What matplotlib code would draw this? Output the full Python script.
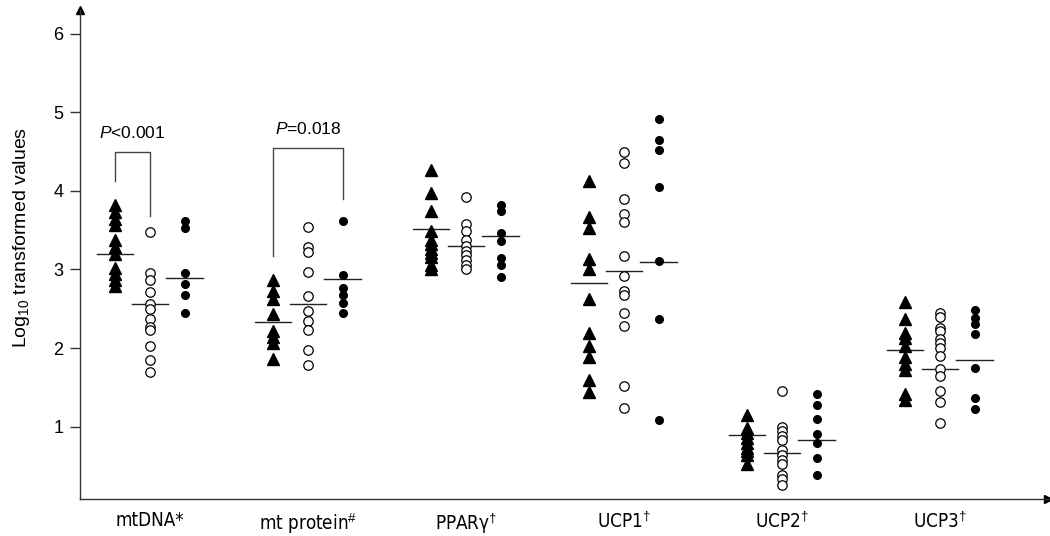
import matplotlib
matplotlib.use('Agg')
import matplotlib.pyplot as plt

# category labels (x axis)
categories = ['mtDNA*', r'mt protein$^{\#}$', r'PPARγ$^{\dagger}$',
              r'UCP1$^{\dagger}$', r'UCP2$^{\dagger}$', r'UCP3$^{\dagger}$']

# group 1: filled triangles
tri_vals = [
    [3.82, 3.73, 3.64, 3.56, 3.38, 3.28, 3.20, 3.02, 2.94, 2.86, 2.79],
    [2.86, 2.73, 2.62, 2.43, 2.22, 2.14, 2.06, 1.86],
    [4.26, 3.97, 3.74, 3.49, 3.37, 3.32, 3.26, 3.21, 3.16, 3.06, 3.01],
    [4.12, 3.67, 3.53, 3.13, 3.00, 2.63, 2.19, 2.03, 1.89, 1.60, 1.44],
    [1.15, 0.98, 0.92, 0.86, 0.79, 0.73, 0.69, 0.64, 0.52],
    [2.58, 2.37, 2.19, 2.13, 2.02, 1.89, 1.80, 1.72, 1.42, 1.34],
]
tri_mean = [3.19, 2.33, 3.52, 2.83, 0.89, 1.97]

# group 2: open circles
open_vals = [
    [3.47, 2.95, 2.87, 2.71, 2.56, 2.50, 2.37, 2.27, 2.23, 2.03, 1.85, 1.69],
    [3.54, 3.29, 3.22, 2.97, 2.66, 2.47, 2.34, 2.23, 1.98, 1.79],
    [3.92, 3.58, 3.49, 3.37, 3.30, 3.24, 3.18, 3.12, 3.06, 3.00],
    [4.50, 4.35, 3.90, 3.71, 3.60, 3.17, 2.92, 2.72, 2.68, 2.45, 2.28, 1.52, 1.24],
    [1.46, 1.00, 0.94, 0.88, 0.83, 0.70, 0.64, 0.58, 0.52, 0.39, 0.33, 0.26],
    [2.44, 2.40, 2.26, 2.22, 2.12, 2.06, 2.00, 1.90, 1.73, 1.64, 1.46, 1.32, 1.05],
]
open_mean = [2.56, 2.56, 3.30, 2.98, 0.67, 1.73]

# group 3: filled circles
fill_vals = [
    [3.62, 3.53, 2.95, 2.81, 2.67, 2.45],
    [3.62, 2.93, 2.76, 2.67, 2.57, 2.45],
    [3.82, 3.74, 3.46, 3.36, 3.15, 3.06, 2.91],
    [4.91, 4.65, 4.52, 4.05, 3.11, 2.37, 1.09],
    [1.42, 1.28, 1.10, 0.91, 0.79, 0.60, 0.38],
    [2.49, 2.38, 2.30, 2.18, 1.75, 1.36, 1.22],
]
fill_mean = [2.89, 2.88, 3.43, 3.10, 0.83, 1.85]

# significance brackets: category, left/right group, top, leg ends
p_texts = [r'$\it{P}$<0.001', r'$\it{P}$=0.018']
p_cat = [0, 1]
p_groups = [(0, 1), (0, 2)]
p_top = [4.50, 4.55]
p_left_end = [4.12, 3.17]
p_right_end = [3.68, 3.90]

offsets = [-0.22, 0.0, 0.22]
half = 0.115

plt.rcParams['font.family'] = ['Liberation Sans', 'DejaVu Sans']
plt.rcParams['mathtext.fontset'] = 'custom'
plt.rcParams['mathtext.rm'] = 'Liberation Sans'
plt.rcParams['mathtext.it'] = 'Liberation Sans:italic'

fig = plt.figure(figsize=(10.5, 5.36), dpi=100)
ax = fig.add_axes([80 / 1050, 1 - 499 / 536, 968 / 1050, 489 / 536])

styles = [
    dict(marker='^', color='black', markersize=9, linestyle='none'),
    dict(marker='o', markerfacecolor='white', markeredgecolor='black',
         markeredgewidth=0.9, markersize=6.8, linestyle='none'),
    dict(marker='o', color='black', markersize=5.5, linestyle='none'),
]

for g, (vals, means) in enumerate([(tri_vals, tri_mean), (open_vals, open_mean), (fill_vals, fill_mean)]):
    for i, ys in enumerate(vals):
        x = i + offsets[g]
        ax.plot([x] * len(ys), ys, zorder=3, **styles[g])
        ax.plot([x - half, x + half], [means[i], means[i]], color='#222222', lw=1.0, zorder=2)

for k in range(len(p_texts)):
    xl = p_cat[k] + offsets[p_groups[k][0]]
    xr = p_cat[k] + offsets[p_groups[k][1]]
    ax.plot([xl, xl, xr, xr], [p_left_end[k], p_top[k], p_top[k], p_right_end[k]],
            color='#444444', lw=1.0)
    ax.text((xl + xr) / 2, p_top[k] + 0.24, p_texts[k], ha='center', va='center', fontsize=12.5)

ax.set_xlim(-0.442, 5.685)
ax.set_ylim(0.08, 6.3)
ax.set_yticks([1, 2, 3, 4, 5, 6])
ax.set_xticks(range(len(categories)))
ax.set_xticklabels(categories, fontsize=13.5, family='DejaVu Sans', fontstretch='condensed')
ax.tick_params(axis='x', length=0, pad=9)
ax.tick_params(axis='y', length=7, width=1, pad=5, labelsize=13, color='#333333')
ax.set_ylabel(r'Log$_{10}$ transformed values', fontsize=14)
ax.yaxis.set_label_coords(-0.05, 0.535)

for s in ['top', 'right']:
    ax.spines[s].set_visible(False)
for s in ['left', 'bottom']:
    ax.spines[s].set_color('#333333')
    ax.spines[s].set_linewidth(1.0)

# arrow heads on axes
ax.plot(0, 1, marker='^', color='black', markersize=6, transform=ax.transAxes, clip_on=False)
ax.plot(1, 0, marker='>', color='black', markersize=6, transform=ax.transAxes, clip_on=False)

fig.savefig('out.png', dpi=100)
